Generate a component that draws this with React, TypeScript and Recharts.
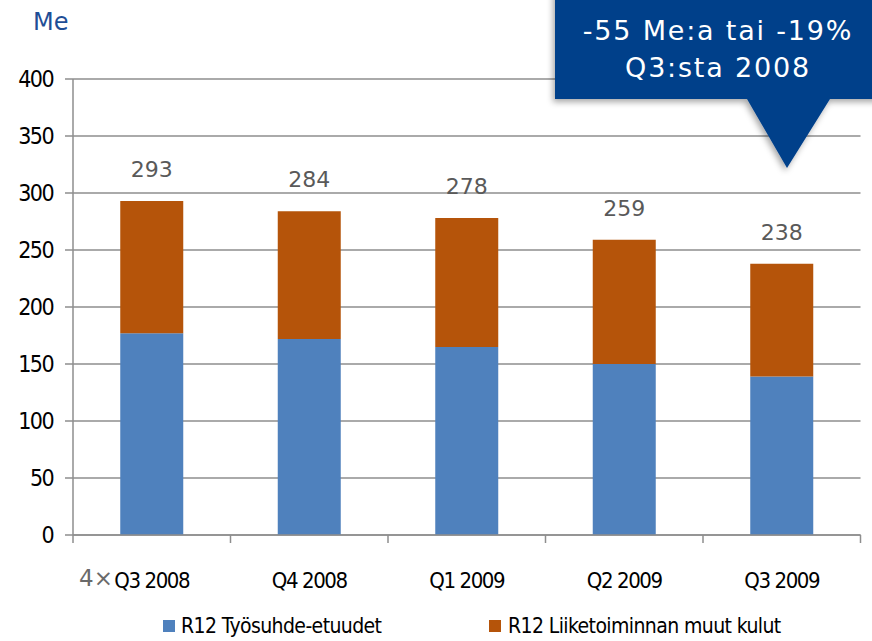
import React from "react";
import { BarChart, Bar, XAxis, YAxis, CartesianGrid, Legend, LabelList } from "recharts";

const categories = ["Q3 2008", "Q4 2008", "Q1 2009", "Q2 2009", "Q3 2009"];
const tyosuhde = [177, 172, 165, 150, 139];
const muutKulut = [116, 112, 113, 109, 99];
const totals = [293, 284, 278, 259, 238];
const yTicks = [0, 50, 100, 150, 200, 250, 300, 350, 400];

const seriesNames = ["R12 Työsuhde-etuudet", "R12 Liiketoiminnan muut kulut"];
const BLUE = "#4F81BD";
const ORANGE = "#B5540A";
const GRID = "#8E8E8E";
const NARROW = "'DejaVu Sans Condensed', 'Liberation Sans Narrow', sans-serif";
const DEJAVU = "'DejaVu Sans', Verdana, sans-serif";

const data = categories.map((c, i) => ({
  name: c,
  tyosuhde: tyosuhde[i],
  muut: muutKulut[i],
  total: totals[i],
}));

const W = 872;
const H = 641;
const MARGIN = { top: 79, right: 11.5, left: 0, bottom: 0 };
const Y_AXIS_W = 73;
const STEP = (W - MARGIN.left - MARGIN.right - Y_AXIS_W) / categories.length;

const CategoryTick = (props: any) => {
  const { x, y, payload, index } = props;
  const axisY = y;
  const half = STEP / 2;
  const last = index === categories.length - 1;
  return (
    <g>
      <line x1={x - half} x2={x - half} y1={axisY} y2={axisY + 8} stroke={GRID} strokeWidth={1.5} />
      {last && <line x1={x + half} x2={x + half} y1={axisY} y2={axisY + 8} stroke={GRID} strokeWidth={1.5} />}
      <text x={x} y={axisY + 53} textAnchor="middle" fontFamily={NARROW} fontSize={22} letterSpacing={-1.4} fill="#000">
        {payload.value}
      </text>
    </g>
  );
};

const TotalLabel = (props: any) => {
  const { x, y, width, value } = props;
  return (
    <text x={x + width / 2} y={y - 24} textAnchor="middle" fontFamily={DEJAVU} fontSize={22} fill="#595959">
      {value}
    </text>
  );
};

const LegendContent = () => (
  <div style={{ position: "relative", height: 30, width: W, fontFamily: NARROW, fontSize: 21, letterSpacing: -0.6, color: "#000" }}>
    <div style={{ position: "absolute", left: 163, top: 0, height: 30, display: "flex", alignItems: "center", whiteSpace: "nowrap" }}>
      <span style={{ display: "inline-block", width: 12, height: 12, background: BLUE, marginRight: 6 }} />
      <span style={{ lineHeight: "30px" }}>{seriesNames[0]}</span>
    </div>
    <div style={{ position: "absolute", left: 489, top: 0, height: 30, display: "flex", alignItems: "center", whiteSpace: "nowrap" }}>
      <span style={{ display: "inline-block", width: 12, height: 12, background: ORANGE, marginRight: 7 }} />
      <span style={{ lineHeight: "30px" }}>{seriesNames[1]}</span>
    </div>
  </div>
);

export default function App() {
  return (
    <div style={{ position: "absolute", left: 0, top: 0, width: W, height: H, background: "#fff", overflow: "hidden" }}>
      <BarChart width={W} height={H} data={data} margin={MARGIN} barCategoryGap="30%">
        <CartesianGrid vertical={false} stroke={GRID} strokeWidth={1.5} />
        <XAxis
          dataKey="name"
          height={76}
          axisLine={{ stroke: GRID, strokeWidth: 1.5 }}
          tickLine={false}
          tickSize={0}
          tickMargin={0}
          tick={<CategoryTick />}
          interval={0}
        />
        <YAxis
          width={Y_AXIS_W}
          domain={[0, 400]}
          ticks={yTicks}
          interval={0}
          axisLine={{ stroke: GRID, strokeWidth: 1.5 }}
          tickLine={{ stroke: GRID, strokeWidth: 1.5 }}
          tickSize={8}
          tickMargin={12}
          tick={{ fontFamily: NARROW, fontSize: 23, letterSpacing: -1.6, fill: "#000" }}
        />
        <Legend verticalAlign="bottom" content={<LegendContent />} wrapperStyle={{ left: 0, width: W, height: 30 }} />
        <Bar dataKey="tyosuhde" name={seriesNames[0]} stackId="a" fill={BLUE} isAnimationActive={false} />
        <Bar dataKey="muut" name={seriesNames[1]} stackId="a" fill={ORANGE} isAnimationActive={false}>
          <LabelList dataKey="total" content={<TotalLabel />} />
        </Bar>
      </BarChart>
      <svg width={W} height={H} style={{ position: "absolute", left: 0, top: 0, pointerEvents: "none" }}>
        <defs>
          <filter id="shadow" x="-10%" y="-10%" width="120%" height="130%">
            <feDropShadow dx="-2" dy="3" stdDeviation="3" floodColor="#000" floodOpacity="0.35" />
          </filter>
        </defs>
        <text x={33} y={30} fontFamily={DEJAVU} fontSize={24} fill="#1F4E96">Me</text>
        <text x={79} y={586} fontFamily={DEJAVU} fontSize={23} fill="#6a6a6a">4×</text>
        <path d="M555,-10 L885,-10 L885,99 L830,99 L787,168 L747,99 L555,99 Z" fill="#00408A" filter="url(#shadow)" />
        <text x={718} y={40} textAnchor="middle" fontFamily={DEJAVU} fontSize={27} fill="#fff" letterSpacing={1.8}>-55 Me:a tai -19%</text>
        <text x={718} y={77} textAnchor="middle" fontFamily={DEJAVU} fontSize={27} fill="#fff" letterSpacing={1.8}>Q3:sta 2008</text>
      </svg>
    </div>
  );
}
